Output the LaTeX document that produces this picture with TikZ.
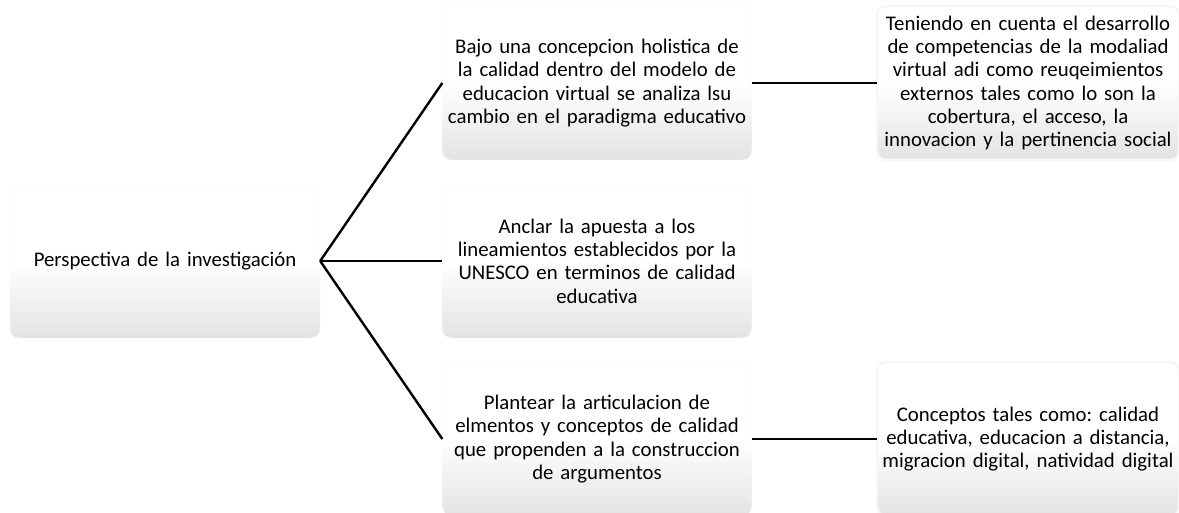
\documentclass[tikz,border=0pt]{standalone}
\usepackage{fontspec}
\setmainfont{Carlito}
\usepackage{xcolor}
\usetikzlibrary{trees}
\frenchspacing

\begin{document}
\begin{tikzpicture}
  [x=1pt,y=1pt,every node/.style={rectangle,rounded corners=9pt,draw=black!3,
    top color=white,bottom color=black!11,middle color=white,
    text centered,font=\fontsize{20.8}{23.3}\selectfont,minimum height=154pt,inner sep=3pt},
   grow'=right,edge from parent/.style={draw,line width=2.4pt}]
\tikzset{%
level 1/.style={sibling distance=178pt,level distance=432pt,text width=303pt,
  edge from parent path={(\tikzparentnode.east) -- (\tikzchildnode.west)}},
level 2/.style={level distance=431pt,text width=296pt}
}
  \useasboundingbox (0,0) rectangle (1179,512);
  \node[text width=304pt] (root) at (165,251) {Perspectiva de la investigación}
    child {node (bajo) {Bajo una concepcion holistica de\\la calidad dentro del modelo de\\educacion virtual se analiza lsu\\cambio en el paradigma educativo}
              child {node (teniendo) {Teniendo en cuenta el desarrollo\\de competencias de la modaliad\\virtual adi como reuqeimientos\\externos tales como lo son la\\cobertura, el acceso, la\\innovacion y la pertinencia social}}}
    child {node (anclar) {Anclar la apuesta a los\\lineamientos establecidos por la\\UNESCO en terminos de calidad\\educativa}}
    child {node (plantear) {Plantear la articulacion de\\elmentos y conceptos de calidad\\que propenden a la construccion\\de argumentos}
              child {node (conceptos) {Conceptos tales como: calidad\\educativa, educacion a distancia,\\migracion digital, natividad digital}}};
\end{tikzpicture}
\end{document}
